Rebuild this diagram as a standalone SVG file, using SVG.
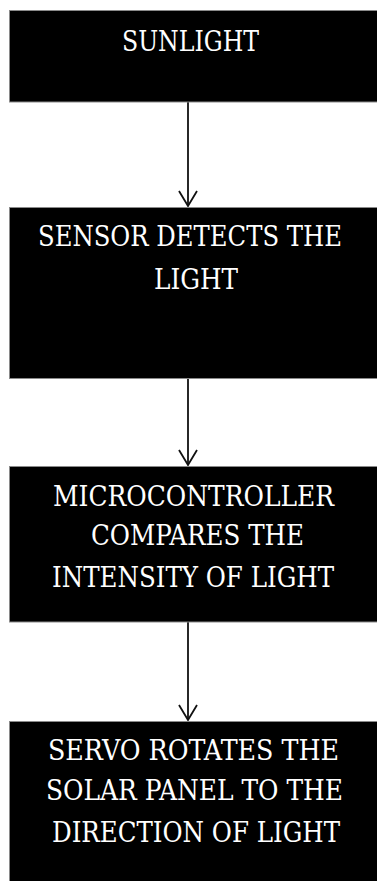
<svg xmlns="http://www.w3.org/2000/svg" width="377" height="881" viewBox="0 0 377 881">
<style>
.box{fill:#000;stroke:#8a8a8a;stroke-width:1}
.t{fill:#fff;font-family:"DejaVu Serif Condensed","DejaVu Serif","Liberation Serif",serif;font-stretch:condensed;font-size:28.5px;text-anchor:middle}
.c{stroke:#111;stroke-width:1.8;fill:none}
</style>
<defs>
<marker id="ah" markerUnits="userSpaceOnUse" markerWidth="20" markerHeight="22" refX="17" refY="10" orient="auto" viewBox="0 0 20 20">
<path d="M2,1 L17,10 L2,19" fill="none" stroke="#111" stroke-width="1.8"/>
</marker>
</defs>
<rect width="377" height="881" fill="#fff"/>
<g id="connectors">
<line class="c" x1="188" y1="102" x2="188" y2="206" marker-end="url(#ah)"/>
<line class="c" x1="188" y1="379" x2="188" y2="465" marker-end="url(#ah)"/>
<line class="c" x1="188" y1="622" x2="188" y2="720" marker-end="url(#ah)"/>
</g>
<g id="sunlight">
<rect class="box" x="9.5" y="10.5" width="380" height="91.5"/>
<text class="t" x="190.5" y="51" textLength="137" lengthAdjust="spacingAndGlyphs">SUNLIGHT</text>
</g>
<g id="sensor">
<rect class="box" x="9.5" y="207.5" width="380" height="171"/>
<text class="t" x="190" y="246" textLength="304" lengthAdjust="spacingAndGlyphs">SENSOR DETECTS THE</text>
<text class="t" x="196" y="289" textLength="84" lengthAdjust="spacingAndGlyphs">LIGHT</text>
</g>
<g id="microcontroller">
<rect class="box" x="9.5" y="466.5" width="380" height="155.5"/>
<text class="t" x="193.5" y="506" textLength="281" lengthAdjust="spacingAndGlyphs">MICROCONTROLLER</text>
<text class="t" x="197.5" y="545" textLength="213" lengthAdjust="spacingAndGlyphs">COMPARES THE</text>
<text class="t" x="193" y="587" textLength="282" lengthAdjust="spacingAndGlyphs">INTENSITY OF LIGHT</text>
</g>
<g id="servo">
<rect class="box" x="9.5" y="721.5" width="380" height="170"/>
<text class="t" x="193.5" y="760" textLength="291" lengthAdjust="spacingAndGlyphs">SERVO ROTATES THE</text>
<text class="t" x="194.5" y="800" textLength="297" lengthAdjust="spacingAndGlyphs">SOLAR PANEL TO THE</text>
<text class="t" x="196" y="842" textLength="288" lengthAdjust="spacingAndGlyphs">DIRECTION OF LIGHT</text>
</g>
</svg>
